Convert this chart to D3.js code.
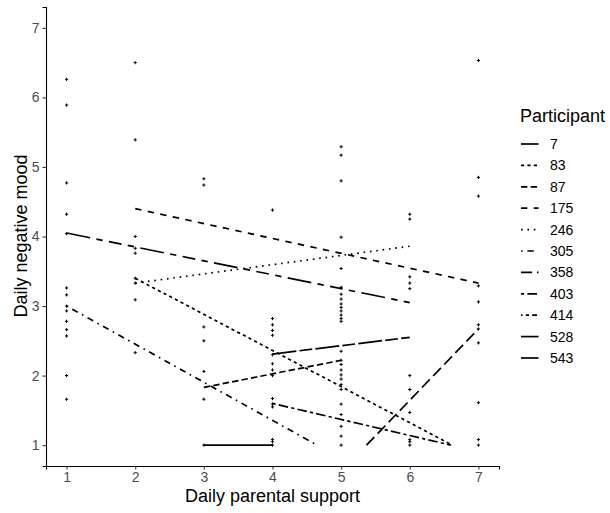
<!DOCTYPE html>
<html>
<head>
  <meta charset="utf-8">
  <title>Daily parental support vs negative mood</title>
  <script src="https://cdn.jsdelivr.net/npm/d3@7"></script>
  <style>
    body { margin: 0; background: #fff; }
    text { font-family: "Liberation Sans", Arial, sans-serif; }
  </style>
</head>
<body>
  <script>
    // Size
    const w = 610;
    const h = 513;

    // Observations (x = parental support, y = negative mood)
    const pointX = [
      1, 1, 1, 1, 1, 1, 1, 1, 1, 1, 1, 1, 1, 1,
      2, 2, 2, 2, 2, 2, 2, 2, 2,
      3, 3, 3, 3, 3, 3, 3,
      4, 4, 4, 4, 4, 4, 4, 4, 4, 4, 4, 4, 4, 4, 4,
      5, 5, 5, 5, 5, 5, 5, 5, 5, 5, 5, 5, 5, 5, 5, 5, 5, 5, 5, 5, 5, 5, 5, 5, 5, 5, 5,
      6, 6, 6, 6, 6, 6, 6, 6, 6, 6, 6,
      7, 7, 7, 7, 7, 7, 7, 7, 7, 7, 7
    ];
    const pointY = [
      6.26, 5.89, 4.77, 4.32, 4.04, 3.26, 3.16, 3.0, 2.93, 2.78, 2.66, 2.57, 2.0, 1.66,
      6.5, 5.39, 4.0, 3.83, 3.76, 3.4, 3.33, 3.09, 2.33,
      4.83, 4.74, 2.7, 2.5, 2.06, 1.66, 1.0,
      4.38, 2.82, 2.73, 2.65, 2.58, 2.3, 2.17, 2.08, 2.0, 1.67, 1.59, 1.55, 1.08, 1.05, 1.0,
      5.29, 5.17, 4.8, 3.99, 3.54, 3.27, 3.17, 3.1, 3.03, 2.98, 2.93, 2.87, 2.82, 2.78,
      2.35, 2.22, 2.16, 2.08, 2.01, 1.95, 1.87, 1.8, 1.59, 1.44, 1.27, 1.13, 1.0,
      4.32, 4.25, 3.42, 3.33, 3.25, 2.0, 1.8, 1.47, 1.08, 1.05, 1.0,
      6.53, 4.85, 4.58, 3.29, 3.06, 2.73, 2.67, 2.47, 1.61, 1.08, 1.0
    ];

    // Fitted line per participant (null = no visible line)
    const participants = ["7", "83", "87", "175", "246", "305", "358", "403", "414", "528", "543"];
    const lineX1 = [3, 2, 3, 2, 2, 1, 5.37, 4, null, 4, 1];
    const lineY1 = [1, 3.4, 1.83, 4.4, 3.33, 3.0, 1, 1.6, null, 2.31, 4.05];
    const lineX2 = [4, 6.62, 5, 7, 6, 4.65, 7, 6.6, null, 6, 6];
    const lineY2 = [1, 1, 2.22, 3.33, 3.86, 1, 2.67, 1, null, 2.55, 3.05];

    const xTicks = [1, 2, 3, 4, 5, 6, 7];
    const yTicks = [1, 2, 3, 4, 5, 6, 7];

    // R linetype palette, in units of the line width
    const ltys = ["", "22", "42", "44", "13", "1343", "73", "2262", "12223242", "F282", "F4448444"];
    const unit = 1.6;
    function dash(code) {
      if (!code) return null;
      return code.split("").map(c => parseInt(c, 16) * unit).join(",");
    }

    // Scales
    const xScale = d3.scaleLinear().domain([0.7, 7.3]).range([46, 499]);
    const yScale = d3.scaleLinear().domain([0.7, 7.3]).range([466, 7]);

    const svg = d3.select("body")
      .append("svg")
      .attr("width", w)
      .attr("height", h);

    // Points as small crosses
    const pts = pointX.map((x, i) => ({ x: x, y: pointY[i] }));
    svg.append("g")
      .selectAll("path")
      .data(pts)
      .enter()
      .append("path")
      .attr("d", d => {
        const cx = xScale(d.x), cy = yScale(d.y);
        return "M" + (cx - 1.6) + "," + cy + "H" + (cx + 1.6) + "M" + cx + "," + (cy - 1.6) + "V" + (cy + 1.6);
      })
      .attr("stroke", "#000")
      .attr("stroke-width", 1);

    // Lines
    const lines = participants.map((p, i) => ({
      x1: lineX1[i], y1: lineY1[i], x2: lineX2[i], y2: lineY2[i], lty: ltys[i]
    })).filter(d => d.x1 !== null);

    svg.append("g")
      .selectAll("line")
      .data(lines)
      .enter()
      .append("line")
      .attr("x1", d => xScale(d.x1))
      .attr("y1", d => yScale(d.y1))
      .attr("x2", d => xScale(d.x2))
      .attr("y2", d => yScale(d.y2))
      .attr("stroke", "#000")
      .attr("stroke-width", 1.7)
      .attr("stroke-dasharray", d => dash(d.lty));

    // Axes
    const xAxis = d3.axisBottom(xScale).tickValues(xTicks).tickFormat(d3.format("d")).tickSize(3.5).tickPadding(3);
    const yAxis = d3.axisLeft(yScale).tickValues(yTicks).tickFormat(d3.format("d")).tickSize(3.5).tickPadding(3);

    const gx = svg.append("g")
      .attr("transform", "translate(0,466)")
      .call(xAxis);
    const gy = svg.append("g")
      .attr("transform", "translate(46,0)")
      .call(yAxis);

    [gx, gy].forEach(g => {
      g.attr("font-size", 14).attr("font-family", "'Liberation Sans', Arial, sans-serif");
      g.select(".domain").attr("stroke", "#000").attr("stroke-width", 1.1);
      g.selectAll(".tick line").attr("stroke", "#333").attr("stroke-width", 1.1);
      g.selectAll(".tick text").attr("fill", "#4d4d4d");
    });

    // Axis titles
    svg.append("text")
      .attr("x", 272.5)
      .attr("y", 502)
      .attr("text-anchor", "middle")
      .style("font-size", "18px")
      .text("Daily parental support");

    svg.append("text")
      .attr("transform", "translate(27,236) rotate(-90)")
      .attr("text-anchor", "middle")
      .style("font-size", "18px")
      .text("Daily negative mood");

    // Legend
    const legend = svg.append("g");
    legend.append("text")
      .attr("x", 520)
      .attr("y", 122)
      .style("font-size", "18px")
      .text("Participant");

    const item = legend.selectAll("g.item")
      .data(participants)
      .enter()
      .append("g")
      .attr("class", "item")
      .attr("transform", (d, i) => "translate(0," + (144 + i * 21.4) + ")");

    item.append("line")
      .attr("x1", 521)
      .attr("x2", 538.5)
      .attr("stroke", "#000")
      .attr("stroke-width", 1.7)
      .attr("stroke-dasharray", (d, i) => dash(ltys[i]));

    item.append("text")
      .attr("x", 550)
      .attr("dy", "0.35em")
      .style("font-size", "14px")
      .text(d => d);
  </script>
</body>
</html>
